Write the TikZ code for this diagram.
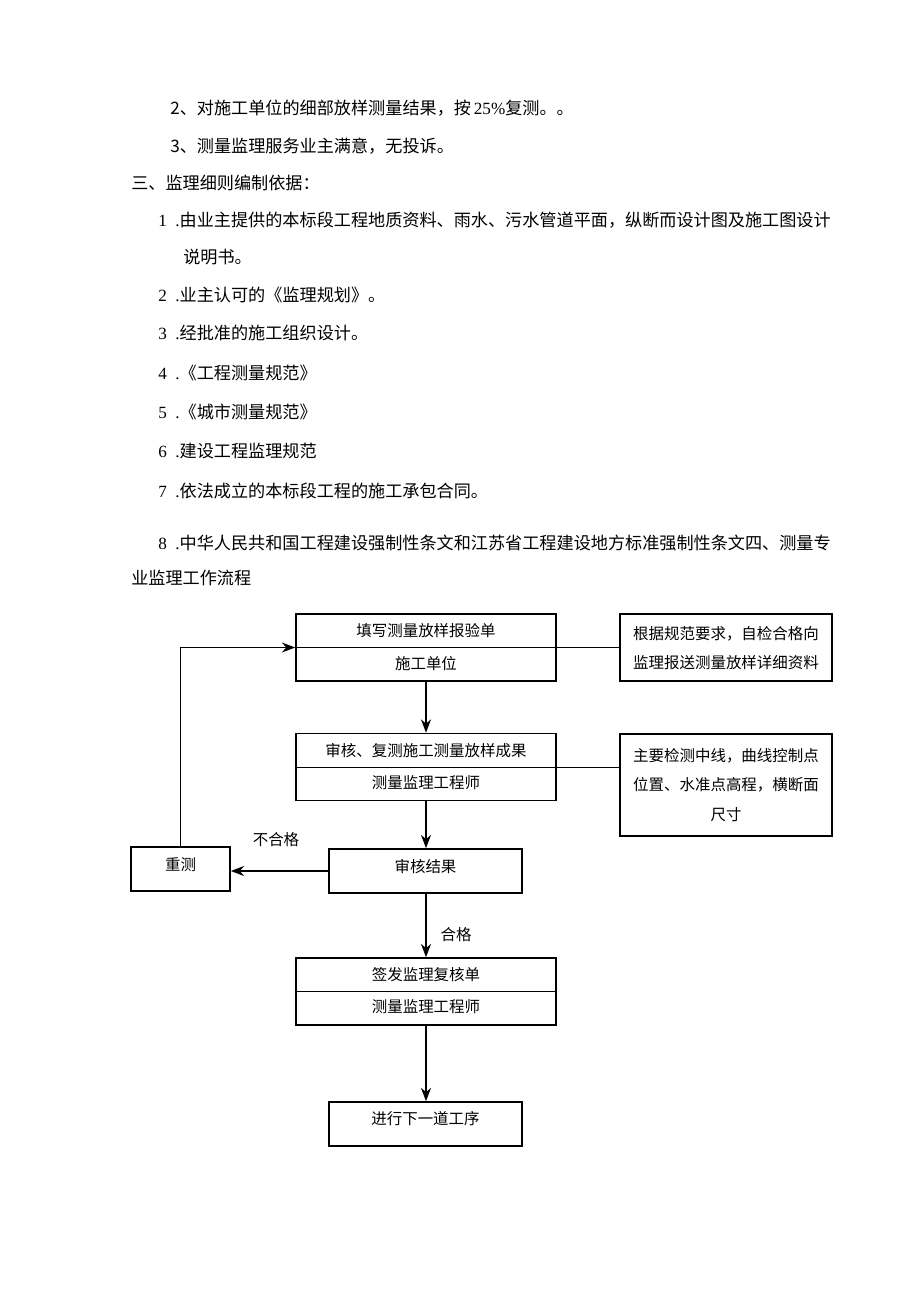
\documentclass[tikz,border=0pt]{standalone}
\usepackage{fontspec}
\setmainfont{Liberation Serif}
\newfontfamily\cjk{Noto Sans CJK SC}
\usetikzlibrary{arrows.meta}
\begin{document}
\begin{tikzpicture}[x=0.75pt,y=-0.75pt,
  body/.style={anchor=west,inner sep=0pt,font=\cjk\fontsize{12.85pt}{14pt}\selectfont},
  tbox/.style={draw,line width=1.2pt,inner sep=0pt},
  bigbox/.style={tbox,minimum width=195pt,minimum height=50.25pt},
  smallbox/.style={tbox,minimum width=144.75pt,minimum height=33pt},
  btxt/.style={inner sep=0pt,font=\cjk\fontsize{11.6pt}{14pt}\selectfont},
  conn/.style={line width=1.1pt,-{Stealth[length=10pt,width=7.5pt]}},
  thin/.style={line width=0.6pt}]
\useasboundingbox (0,0) rectangle (920,1301);
% body text
\node[body] (l1) at (170,108) {2{\cjk 、对施工单位的细部放样测量结果，按}\,{\rmfamily 25\%}{\cjk 复测。。}};
\node[body] (l2) at (170,146) {3{\cjk 、测量监理服务业主满意，无投诉。}};
\node[body] (l3) at (131,183) {三、监理细则编制依据：};
\node[body] (l4) at (158,220) {{\rmfamily 1\ \ .}由业主提供的本标段工程地质资料、雨水、污水管道平面，纵断而设计图及施工图设计};
\node[body] (l5) at (183,257) {说明书。};
\node[body] (l6) at (158,295) {{\rmfamily 2\ \ .}业主认可的《监理规划》。};
\node[body] (l7) at (158,333) {{\rmfamily 3\ \ .}经批准的施工组织设计。};
\node[body] (l8) at (158,373) {{\rmfamily 4\ \ .}《工程测量规范》};
\node[body] (l9) at (158,412) {{\rmfamily 5\ \ .}《城市测量规范》};
\node[body] (l10) at (158,451) {{\rmfamily 6\ \ .}建设工程监理规范};
\node[body] (l11) at (158,491) {{\rmfamily 7\ \ .}依法成立的本标段工程的施工承包合同。};
\node[body] (l12) at (158,543) {{\rmfamily 8\ \ .}中华人民共和国工程建设强制性条文和江苏省工程建设地方标准强制性条文四、测量专};
\node[body] (l13) at (131,578) {业监理工作流程};
% flowchart boxes
\node[bigbox] (b1) at (426,647.5) {};
\draw[thin] (b1.west) -- (b1.east);
\node[btxt] (b1a) at (426,631) {填写测量放样报验单};
\node[btxt] (b1b) at (426,664) {施工单位};
\node[tbox,minimum width=159pt,minimum height=50.25pt] (ra) at (726,647.5) {};
\node[btxt,align=center] (rat) at (726,648) {根据规范要求，自检合格向\\[8pt]监理报送测量放样详细资料};
\node[bigbox] (b2) at (426,767) {};
\draw[thin] (b2.west) -- (b2.east);
\node[btxt] (b2a) at (426,751) {审核、复测施工测量放样成果};
\node[btxt] (b2b) at (426,783) {测量监理工程师};
\node[tbox,minimum width=159pt,minimum height=76.5pt] (rb) at (726,785) {};
\node[btxt,align=center] (rbt) at (726,785) {主要检测中线，曲线控制点\\[8pt]位置、水准点高程，横断面\\[8pt]尺寸};
\node[smallbox] (b3) at (425.5,871) {};
\node[btxt] (b3t) at (425.5,867) {审核结果};
\node[tbox,minimum width=74.25pt,minimum height=33pt] (redo) at (180.5,869) {};
\node[btxt] (redot) at (180.5,865) {重测};
\node[bigbox] (b4) at (426,991.5) {};
\draw[thin] (b4.west) -- (b4.east);
\node[btxt] (b4a) at (426,975) {签发监理复核单};
\node[btxt] (b4b) at (426,1007) {测量监理工程师};
\node[smallbox] (b5) at (425.5,1124) {};
\node[btxt] (b5t) at (425.5,1119) {进行下一道工序};
% connectors
\draw[thin] (b1.east) -- (ra.west);
\draw[thin] (b2.east) -- (b2.east -| rb.west);
\draw[conn] (b1.south) -- (b2.north);
\draw[conn] (b2.south) -- (b2.south |- b3.north);
\draw[conn] (b3.west) -- (b3.west -| redo.east);
\node[btxt] (ng) at (276,840) {不合格};
\draw[conn] (redo.north) -- (redo.north |- b1.west) -- (b1.west);
\draw[conn] (b2.south |- b3.south) -- (b4.north);
\node[btxt] (ok) at (456,935) {合格};
\draw[conn] (b4.south) -- (b4.south |- b5.north);
\end{tikzpicture}
\end{document}
